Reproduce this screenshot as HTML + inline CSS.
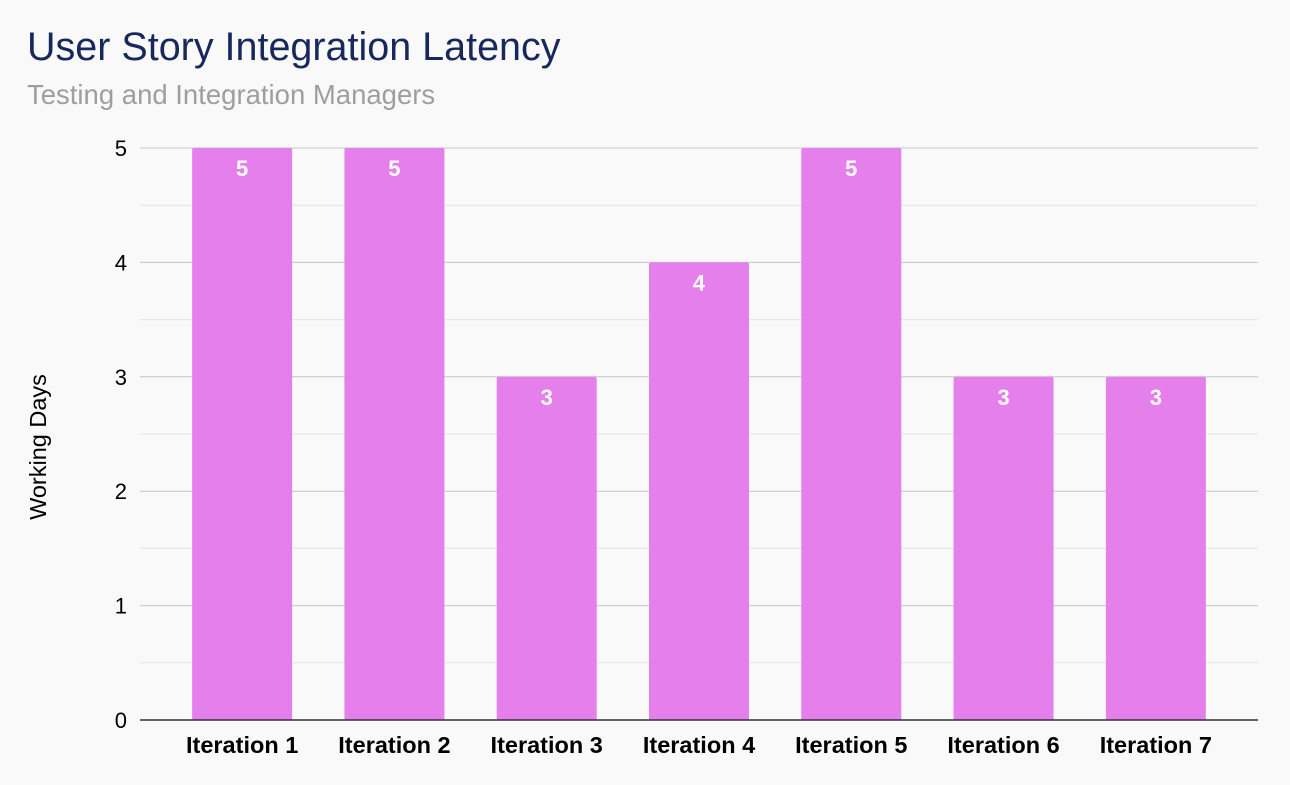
<!DOCTYPE html>
<html><head><meta charset="utf-8">
<style>
body{margin:0;background:#f9f9f9;font-family:"Liberation Sans",Arial,sans-serif;}
#wrap{position:relative;width:1290px;height:780px;background:#f9f9f9;}
</style></head>
<body>
<div id="wrap">
<svg id="chart" width="1290" height="780">
<text x="27" y="60" font-size="39.5" fill="#17295c">User Story Integration Latency</text>
<text x="27" y="104" font-size="27.5" fill="#9e9e9e">Testing and Integration Managers</text>
<text transform="translate(46,447) rotate(-90)" text-anchor="middle" font-size="23.5" fill="#000">Working Days</text>
<g id="grid"></g><g id="bars"></g><g id="labels"></g>
</svg>
</div>
<script>
const categories=["Iteration 1","Iteration 2","Iteration 3","Iteration 4","Iteration 5","Iteration 6","Iteration 7"];
const values=[5,5,3,4,5,3,3];
const yTicks=[0,1,2,3,4,5];
const NS="http://www.w3.org/2000/svg";
const plotL=140,plotR=1258,y0=720,y5=148,yMax=5;
const bandL=166,bandR=1232;
function yScale(v){return y0-(y0-y5)*v/yMax;}
const step=(bandR-bandL)/categories.length;
function xCenter(i){return bandL+step*(i+0.5);}
const barW=100;
function mk(tag,attrs,parent){const e=document.createElementNS(NS,tag);for(const k in attrs)e.setAttribute(k,attrs[k]);parent.appendChild(e);return e;}
const grid=document.getElementById('grid'),bars=document.getElementById('bars'),labels=document.getElementById('labels');
for(let i=0;i<yMax;i++){
  const y=yScale(i+0.5);
  const l=mk('line',{x1:plotL,x2:plotR,y1:y,y2:y,stroke:'#e3e3e3','stroke-width':1},grid);
  
  
}
yTicks.forEach(t=>{
  const y=yScale(t);
  if(t>0){const l=mk('line',{x1:plotL,x2:plotR,y1:y,y2:y,stroke:'#c6c6c6','stroke-width':1},grid);
  
  }
  const tx=mk('text',{x:127,y:y+8,'text-anchor':'end','font-size':22,fill:'#000'},labels);
  tx.textContent=t;
  
  
});
values.forEach((v,i)=>{
  const cx=xCenter(i),y=yScale(v);
  const r=mk('path',{d:`M${cx-barW/2},${y0} V${y+2} Q${cx-barW/2},${y} ${cx-barW/2+2},${y} H${cx+barW/2-2} Q${cx+barW/2},${y} ${cx+barW/2},${y+2} V${y0} Z`,fill:'#e47fec'},bars);
  
  
  const vl=mk('text',{x:cx,y:y+28,'text-anchor':'middle','font-size':22,'font-weight':'bold',fill:'#fff'},labels);
  vl.textContent=v;
  
  
  const cl=mk('text',{x:cx,y:753,'text-anchor':'middle','font-size':23.5,'font-weight':'bold',fill:'#000'},labels);
  cl.textContent=categories[i];
  
  
});
const ax=mk('line',{x1:plotL,x2:plotR,y1:y0,y2:y0,stroke:'#333','stroke-width':1.5},labels);


</script>
</body></html>
